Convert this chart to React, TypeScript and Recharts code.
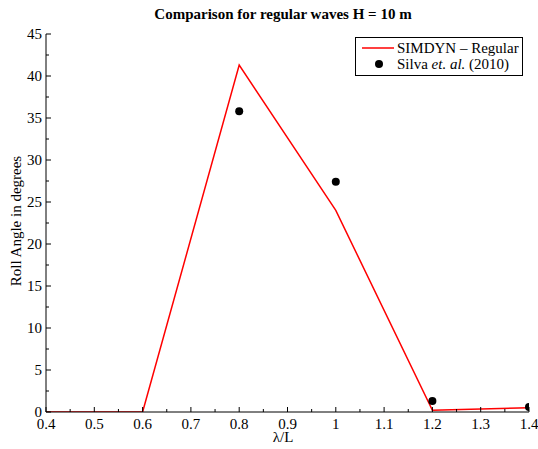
import React from "react";
import { ComposedChart, Line, Scatter, XAxis, YAxis } from "recharts";

const simX = [0.4, 0.6, 0.8, 1.0, 1.2, 1.4];
const simRoll = [0, 0, 41.3, 24.0, 0.2, 0.5];
const silvaX = [0.8, 1.0, 1.2, 1.4];
const silvaRoll = [35.8, 27.4, 1.3, 0.6];
const xTicks = [0.4, 0.45, 0.5, 0.55, 0.6, 0.65, 0.7, 0.75, 0.8, 0.85, 0.9, 0.95, 1.0, 1.05, 1.1, 1.15, 1.2, 1.25, 1.3, 1.35, 1.4];
const yTicks = [0, 2.5, 5, 7.5, 10, 12.5, 15, 17.5, 20, 22.5, 25, 27.5, 30, 32.5, 35, 37.5, 40, 42.5, 45];

const simData = simX.map((x, i) => ({ x, sim: simRoll[i] }));
const silvaData = silvaX.map((x, i) => ({ x, silva: silvaRoll[i] }));

const FONT = "'Liberation Serif', 'Times New Roman', serif";

const XTick = (props: any) => {
  const { x, y, payload, index } = props;
  const major = index % 2 === 0;
  return (
    <g>
      <line x1={x} x2={x} y1={y} y2={y - (major ? 5 : 3)} stroke="#000" strokeWidth={1} />
      {major && (
        <text x={x} y={y + 17} textAnchor="middle" fontFamily={FONT} fontSize={15} fill="#000">
          {String(Number(payload.value.toFixed(2)))}
        </text>
      )}
    </g>
  );
};

const YTick = (props: any) => {
  const { x, y, payload, index } = props;
  const major = index % 2 === 0;
  return (
    <g>
      <line x1={x} x2={x + (major ? 5 : 3)} y1={y} y2={y} stroke="#000" strokeWidth={1} />
      {major && (
        <text x={x - 4} y={y + 5} textAnchor="end" fontFamily={FONT} fontSize={15} fill="#000">
          {String(payload.value)}
        </text>
      )}
    </g>
  );
};

const LegendBox = () => (
  <div
    style={{
      position: "absolute",
      left: 355,
      top: 37,
      width: 168,
      height: 39,
      border: "1px solid #000",
      background: "#fff",
      fontFamily: FONT,
      fontSize: 15,
      color: "#000",
      boxSizing: "border-box",
    }}
  >
    <svg width={40} height={37} style={{ position: "absolute", left: 0, top: 0 }}>
      <line x1={6} x2={38} y1={10} y2={10} stroke="#ff0000" strokeWidth={1.5} />
      <circle cx={23} cy={26} r={4} fill="#000" />
    </svg>
    <div style={{ position: "absolute", left: 41, top: 2, whiteSpace: "nowrap", lineHeight: "16px" }}>
      SIMDYN – Regular
    </div>
    <div style={{ position: "absolute", left: 41, top: 18, whiteSpace: "nowrap", lineHeight: "16px" }}>
      Silva <i>et. al.</i> (2010)
    </div>
  </div>
);

export default function App() {
  return (
    <div style={{ position: "absolute", left: 0, top: 0, width: 538, height: 449, background: "#fff" }}>
      <ComposedChart
        width={538}
        height={449}
        data={simData}
        margin={{ top: 34, right: 9, bottom: 0, left: 0 }}
      >
        <text x={283} y={19} textAnchor="middle" fontFamily={FONT} fontSize={15} fontWeight="bold" fill="#000">
          Comparison for regular waves H = 10 m
        </text>
        <text x={283} y={442} textAnchor="middle" fontFamily={FONT} fontSize={15} fill="#000">
          λ/L
        </text>
        <text
          x={21}
          y={221}
          textAnchor="middle"
          fontFamily={FONT}
          fontSize={15}
          fill="#000"
          transform="rotate(-90 21 221)"
        >
          Roll Angle in degrees
        </text>
        <XAxis
          dataKey="x"
          type="number"
          domain={[0.4, 1.4]}
          ticks={xTicks}
          interval={0}
          tickSize={0}
          tickMargin={0}
          tickLine={false}
          tick={<XTick />}
          axisLine={{ stroke: "#000", strokeWidth: 1 }}
          height={37}
          allowDataOverflow
        />
        <YAxis
          type="number"
          domain={[0, 45]}
          ticks={yTicks}
          interval={0}
          tickSize={0}
          tickMargin={0}
          tickLine={false}
          tick={<YTick />}
          axisLine={{ stroke: "#000", strokeWidth: 1 }}
          width={46}
          allowDataOverflow
        />
        <Line
          dataKey="sim"
          stroke="#ff0000"
          strokeWidth={1.5}
          dot={false}
          activeDot={false}
          isAnimationActive={false}
        />
        <Scatter
          data={silvaData}
          dataKey="silva"
          fill="#000"
          shape={(p: any) => <circle cx={p.cx} cy={p.cy} r={4} fill="#000" />}
          isAnimationActive={false}
        />
      </ComposedChart>
      <LegendBox />
    </div>
  );
}
